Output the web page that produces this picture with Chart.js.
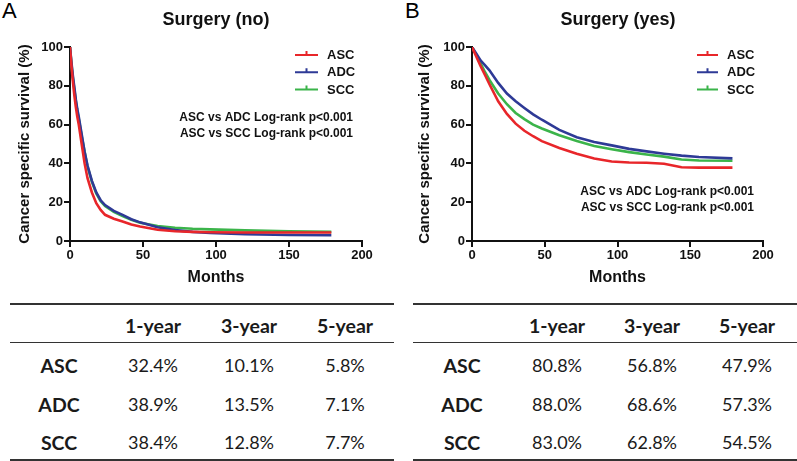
<!DOCTYPE html>
<html>
<head>
<meta charset="utf-8">
<script src="https://cdn.jsdelivr.net/npm/chart.js@4.4.0/dist/chart.umd.min.js"></script>
<style>
  html,body{margin:0;padding:0;background:#fff;}
  body{width:797px;height:461px;position:relative;overflow:hidden;font-family:"Liberation Sans",Arial,sans-serif;}
  .wrap{position:absolute;top:0;height:290px;}
  #wa{left:0;width:400px;}
  #wb{left:400px;width:397px;}
  .letter{position:absolute;top:-2px;font:22px "Liberation Sans",Arial,sans-serif;color:#000;}
  .cell{position:absolute;transform:translate(-50%,-50%);font-family:Lato,"Open Sans",sans-serif;font-size:18px;color:#1a1a1a;white-space:nowrap;}
  .b{font-weight:bold;font-size:19.5px;}
  .rule{position:absolute;background:#333;}
</style>
</head>
<body>
<div class="letter" style="left:2px">A</div>
<div class="letter" style="left:405px">B</div>
<div class="wrap" id="wa"><canvas id="ca" width="400" height="290"></canvas></div>
<div class="wrap" id="wb"><canvas id="cb" width="397" height="290"></canvas></div>
<div id="tables"></div>
<script>
// ---------- DATA ----------
const seriesNames = ['ASC', 'ADC', 'SCC'];
const seriesColors = ['#e8262a', '#2e3a96', '#3bb44a'];

// Panel A: Surgery (no)
const monthsA = [0, 1, 2, 3, 4, 5, 6, 8, 10, 12, 15, 18, 21, 24, 30, 36, 42, 48, 60, 72, 84, 96, 120, 150, 179];
const ascA = [100, 90, 82, 75, 69, 64, 60, 50, 40, 32.4, 25, 19.5, 16, 13.5, 11.5, 10.1, 8.5, 7.5, 5.8, 5.0, 4.7, 4.5, 4.4, 4.4, 4.4];
const adcA = [100, 92, 85, 79, 73, 68, 64, 55, 46, 38.9, 31, 25, 21, 18.5, 15.5, 13.5, 11.2, 9.6, 7.1, 5.6, 4.7, 4.1, 3.5, 3.1, 3.0];
const sccA = [100, 91, 84, 78, 72, 67, 63, 54, 46, 38.4, 30.5, 24.5, 20.5, 18, 15, 12.8, 10.9, 9.4, 7.7, 6.8, 6.3, 6.0, 5.5, 5.0, 4.7];

// Panel B: Surgery (yes)
const monthsB = [0, 3, 6, 9, 12, 18, 24, 30, 36, 42, 48, 60, 72, 84, 96, 108, 120, 132, 144, 156, 179];
const ascB = [100, 95, 90, 85.5, 80.8, 72, 65.5, 60.5, 56.8, 54, 51.5, 47.9, 45, 42.5, 41, 40.5, 40.3, 39.8, 38, 37.8, 37.8];
const adcB = [100, 96.5, 93, 90.5, 88, 81.5, 76, 72, 68.6, 65.3, 62.5, 57.3, 53.5, 51, 49.3, 47.5, 46.2, 45, 44, 43.3, 42.6];
const sccB = [100, 95.8, 91.5, 87, 83, 76, 70.5, 66, 62.8, 60, 58, 54.5, 51.5, 49, 47.3, 45.8, 44.6, 43.5, 42, 41.5, 41.4];

const xTicks = [0, 50, 100, 150, 200];
const yTicks = [0, 20, 40, 60, 80, 100];

const titleA = 'Surgery (no)';
const titleB = 'Surgery (yes)';
const statLines = ['ASC vs ADC Log-rank p<0.001', 'ASC vs SCC Log-rank p<0.001'];

// Tables
const tableCols = ['1-year', '3-year', '5-year'];
const tableRows = ['ASC', 'ADC', 'SCC'];
const tableA_ASC = ['32.4%', '10.1%', '5.8%'];
const tableA_ADC = ['38.9%', '13.5%', '7.1%'];
const tableA_SCC = ['38.4%', '12.8%', '7.7%'];
const tableB_ASC = ['80.8%', '56.8%', '47.9%'];
const tableB_ADC = ['88.0%', '68.6%', '57.3%'];
const tableB_SCC = ['83.0%', '62.8%', '54.5%'];

// ---------- CHARTS ----------
const FONT = '"Liberation Sans", Arial, sans-serif';

const overlay = {
  id: 'overlay',
  afterDraw(chart, args, o) {
    const ctx = chart.ctx;
    ctx.save();
    ctx.fillStyle = '#111';
    ctx.textBaseline = 'middle';
    // title
    ctx.font = 'bold 18px ' + FONT;
    ctx.textAlign = 'center';
    ctx.fillText(o.title, o.titleX, 20);
    // legend
    ctx.font = 'bold 13px ' + FONT;
    ctx.textAlign = 'left';
    seriesNames.forEach((n, i) => {
      const y = o.legY + i * 17.3;
      ctx.strokeStyle = seriesColors[i];
      ctx.lineWidth = 2;
      ctx.beginPath();
      ctx.moveTo(o.legX0, y); ctx.lineTo(o.legX1, y);
      const mx = (o.legX0 + o.legX1) / 2;
      ctx.moveTo(mx, y); ctx.lineTo(mx, y - 4);
      ctx.stroke();
      ctx.fillStyle = '#111';
      ctx.fillText(n, o.legTX, y + 0.5);
    });
    // stats
    ctx.font = 'bold 12px ' + FONT;
    ctx.textAlign = 'right';
    statLines.forEach((s, i) => ctx.fillText(s, o.statX, o.statY + i * 15.5));
    ctx.restore();
  }
};

function makeChart(id, months, vals, leftW, padRight, ov) {
  const datasets = vals.map((v, i) => ({
    label: seriesNames[i],
    data: months.map((m, j) => ({ x: m, y: v[j] })),
    borderColor: seriesColors[i],
    backgroundColor: seriesColors[i],
    borderWidth: 2.6,
    pointRadius: 0,
    tension: 0,
    fill: false
  }));
  const tickFont = { family: FONT, size: 13, weight: 'bold' };
  return new Chart(document.getElementById(id), {
    type: 'line',
    data: { datasets },
    plugins: [overlay],
    options: {
      responsive: false,
      animation: false,
      devicePixelRatio: 1,
      layout: { padding: { top: 47, left: 0, right: padRight, bottom: 0 } },
      plugins: { legend: { display: false }, tooltip: { enabled: false }, title: { display: false }, overlay: ov },
      scales: {
        x: {
          type: 'linear', min: 0, max: 200,
          afterBuildTicks(s) { s.ticks = xTicks.map(v => ({ value: v })); },
          ticks: { color: '#111', font: tickFont, padding: 1, maxRotation: 0 },
          grid: { drawOnChartArea: false, drawTicks: true, tickLength: 6, color: '#111', lineWidth: 2 },
          border: { display: true, color: '#111', width: 2 },
          title: { display: true, text: 'Months', color: '#111', font: { family: FONT, size: 16, weight: 'bold' }, padding: { top: 0, bottom: 3 } },
          afterFit(s) { s.height = 49; }
        },
        y: {
          min: 0, max: 100,
          afterBuildTicks(s) { s.ticks = yTicks.map(v => ({ value: v })); },
          ticks: { color: '#111', font: tickFont, padding: 1 },
          grid: { drawOnChartArea: false, drawTicks: true, tickLength: 6, color: '#111', lineWidth: 2 },
          border: { display: true, color: '#111', width: 2 },
          title: { display: true, text: 'Cancer specific survival (%)', color: '#111', font: { family: FONT, size: 15, weight: 'bold' }, padding: { top: 16, bottom: 0 } },
          afterFit(s) { s.width = leftW; }
        }
      }
    }
  });
}

makeChart('ca', monthsA, [ascA, adcA, sccA], 70, 38,
  { title: titleA, titleX: 216, legY: 55, legX0: 295, legX1: 318, legTX: 327, statX: 353, statY: 118 });
makeChart('cb', monthsB, [ascB, adcB, sccB], 72, 34,
  { title: titleB, titleX: 218, legY: 55, legX0: 297, legX1: 318, legTX: 327, statX: 354, statY: 192 });

// ---------- TABLES ----------
function addTable(offX, lineX0, lineX1, labelX, colXs, rowsVals) {
  const host = document.getElementById('tables');
  const add = (txt, x, y, bold) => {
    const d = document.createElement('div');
    d.className = 'cell' + (bold ? ' b' : '');
    d.textContent = txt;
    d.style.left = (offX + x) + 'px';
    d.style.top = y + 'px';
    host.appendChild(d);
  };
  const rule = (y, h) => {
    const d = document.createElement('div');
    d.className = 'rule';
    d.style.left = lineX0 + 'px'; d.style.width = (lineX1 - lineX0) + 'px';
    d.style.top = y + 'px'; d.style.height = h + 'px';
    host.appendChild(d);
  };
  rule(303, 1.5); rule(342, 1); rule(458.5, 2.5);
  tableCols.forEach((c, i) => add(c, colXs[i], 325, true));
  const rowY = [365, 404, 442];
  tableRows.forEach((r, i) => {
    add(r, labelX, rowY[i], true);
    rowsVals[i].forEach((v, j) => add(v, colXs[j], rowY[i], false));
  });
}
addTable(0, 10, 394, 59, [153, 249, 345], [tableA_ASC, tableA_ADC, tableA_SCC]);
addTable(400, 413, 797, 62, [157, 252, 347], [tableB_ASC, tableB_ADC, tableB_SCC]);
</script>
</body>
</html>
